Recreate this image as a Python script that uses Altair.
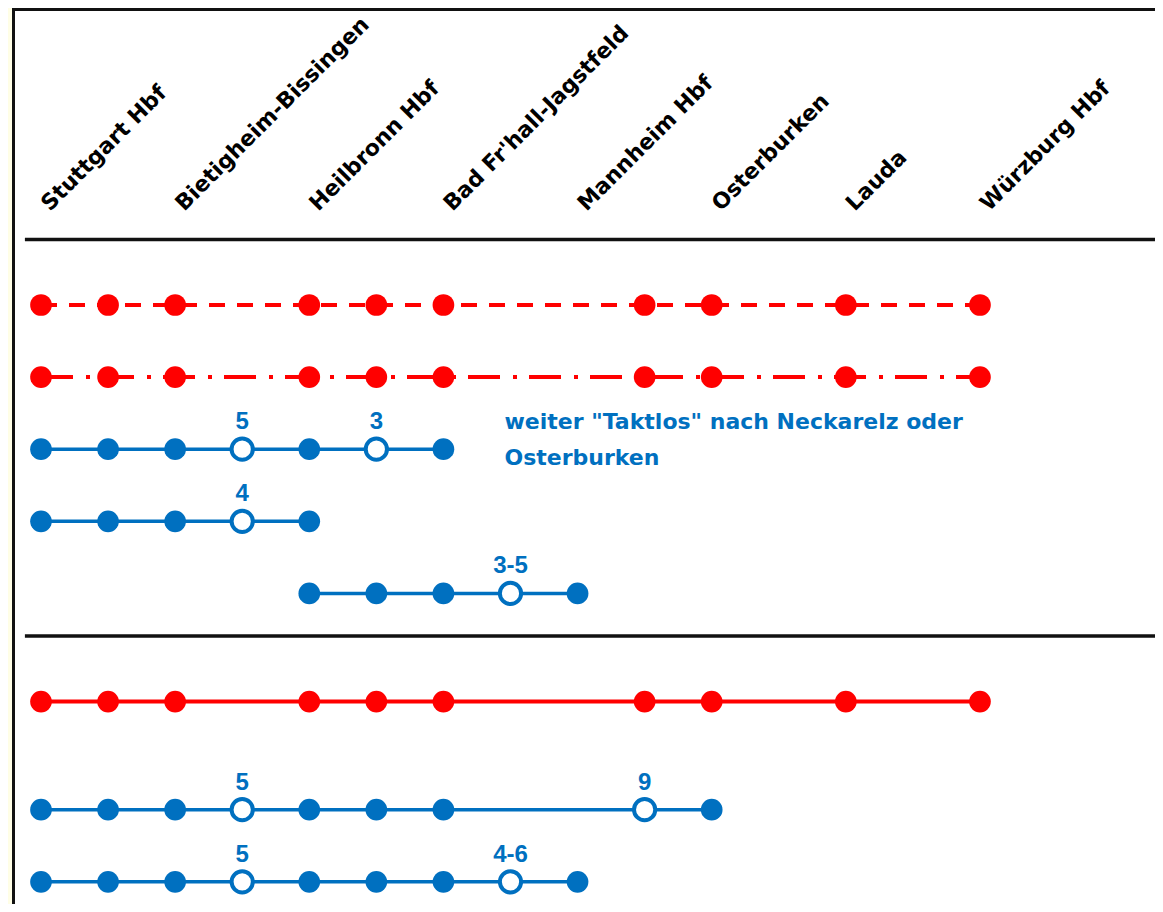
import altair as alt
import pandas as pd

# ---------------- data ----------------
STATIONS = ["Stuttgart Hbf", "Bietigheim-Bissingen", "Heilbronn Hbf",
            "Bad Fr'hall-Jagstfeld", "Mannheim Hbf", "Osterburken",
            "Lauda", "Würzburg Hbf"]
STATION_COLS = [0, 2, 4, 6, 8, 10, 12, 14]

ROW_TRACK = [0, 1, 2, 3, 4, 5.5, 7, 8]
ROW_COLOR = ["red", "red", "blue", "blue", "blue", "red", "blue", "blue"]
ROW_DASH = ["dash", "dashdot", "solid", "solid", "solid", "solid", "solid", "solid"]
ROW_STOPS = [
    [0, 1, 2, 4, 5, 6, 9, 10, 12, 14],
    [0, 1, 2, 4, 5, 6, 9, 10, 12, 14],
    [0, 1, 2, 3, 4, 5, 6],
    [0, 1, 2, 3, 4],
    [4, 5, 6, 7, 8],
    [0, 1, 2, 4, 5, 6, 9, 10, 12, 14],
    [0, 1, 2, 3, 4, 5, 6, 9, 10],
    [0, 1, 2, 3, 4, 5, 6, 7, 8],
]
ROW_OPEN = [[], [], [3, 5], [3], [7], [], [3, 9], [3, 7]]
ROW_OPEN_LABELS = [[], [], ["5", "3"], ["4"], ["3-5"], [], ["5", "9"], ["5", "4-6"]]

NOTE_TEXT = 'weiter "Taktlos" nach Neckarelz oder\nOsterburken'
NOTE_COL = 7
NOTE_TRACK = 2

SEPARATOR_TRACKS = [-0.91, 4.59]
HEADER_TRACK = -1.29

# ---------------- layout / style ----------------
W, H = 1147, 896
X0_PX, X_STEP = 33, 67.07
Y0_PX, Y_STEP = 297, 72.1
XDOM = [-X0_PX / X_STEP, (W - X0_PX) / X_STEP]
YDOM = [-Y0_PX / Y_STEP, (H - Y0_PX) / Y_STEP]
RED = "#FF0000"
BLUE = "#0070C0"
CREAM = "#FFFEE6"
INK = "#111111"

xs = alt.Scale(domain=XDOM, range=[0, W], nice=False, zero=False)
ys = alt.Scale(domain=YDOM, range=[0, H], nice=False, zero=False)

pts = []
for r, (trk, colr, dash, stops, opens, labs) in enumerate(
        zip(ROW_TRACK, ROW_COLOR, ROW_DASH, ROW_STOPS, ROW_OPEN, ROW_OPEN_LABELS)):
    lab_map = dict(zip(opens, labs))
    for c in stops:
        pts.append({"row": r, "col": c, "track": trk, "color": colr, "dash": dash,
                    "open": c in lab_map, "label": lab_map.get(c, "")})
pts = pd.DataFrame(pts)
stations = pd.DataFrame({"name": STATIONS, "col": STATION_COLS})
seps = pd.DataFrame({"track": SEPARATOR_TRACKS})
note = pd.DataFrame({"text": [NOTE_TEXT], "col": [NOTE_COL], "track": [NOTE_TRACK]})
blank = alt.Data(values=[{}])

X = lambda f="col": alt.X(f"{f}:Q", scale=xs, axis=None)
Y = lambda f="track": alt.Y(f"{f}:Q", scale=ys, axis=None)

panel = alt.Chart(blank).mark_rect(color="white").encode(
    x=alt.value(7), x2=alt.value(W), y=alt.value(3), y2=alt.value(H))
border_left = alt.Chart(blank).mark_rule(color=INK, strokeWidth=3).encode(
    x=alt.value(5.5), y=alt.value(0), y2=alt.value(H))
border_top = alt.Chart(blank).mark_rule(color=INK, strokeWidth=3).encode(
    x=alt.value(4), x2=alt.value(W), y=alt.value(1.5))

sep_rules = alt.Chart(seps).mark_rule(color=INK, strokeWidth=3.5).encode(
    y=Y(), x=alt.X(datum=-0.24, type="quantitative", scale=xs, axis=None),
    x2=alt.X2(datum=XDOM[1]))

headers = alt.Chart(stations).transform_calculate(
    lx=f"datum.col + {9 / X_STEP}", ly=f"{HEADER_TRACK}"
).mark_text(angle=315, align="left", baseline="alphabetic", font="DejaVu Sans",
            fontWeight="bold", fontSize=22, color="black").encode(
    x=X("lx"), y=Y("ly"), text="name:N")

dash_scale = alt.Scale(domain=["dash", "dashdot", "solid"],
                       range=[[16, 12], [32, 13, 4, 12], [1, 0]])

red_lines = alt.Chart(pts).transform_filter("datum.color == 'red'").mark_line(
    color=RED, strokeWidth=4).encode(
    x=X(), y=Y(), detail="row:N", order="col:Q",
    strokeDash=alt.StrokeDash("dash:N", scale=dash_scale, legend=None))
blue_lines = alt.Chart(pts).transform_filter("datum.color == 'blue'").mark_line(
    color=BLUE, strokeWidth=3.5).encode(
    x=X(), y=Y(), detail="row:N", order="col:Q")

red_dots = alt.Chart(pts).transform_filter("datum.color == 'red'").mark_circle(
    color=RED, size=470, opacity=1).encode(x=X(), y=Y())
blue_dots = alt.Chart(pts).transform_filter(
    "datum.color == 'blue' && !datum.open").mark_circle(
    color=BLUE, size=470, opacity=1).encode(x=X(), y=Y())
open_dots = alt.Chart(pts).transform_filter("datum.open").mark_point(
    shape="circle", fill="white", stroke=BLUE, strokeWidth=4, size=450,
    opacity=1, fillOpacity=1, strokeOpacity=1).encode(x=X(), y=Y())

open_labels = alt.Chart(pts).transform_filter("datum.open").mark_text(
    align="center", baseline="alphabetic", dy=-20, font="Liberation Sans",
    fontWeight="bold", fontSize=24, color=BLUE).encode(
    x=X(), y=Y(), text="label:N")

note_text = alt.Chart(note).mark_text(
    align="left", baseline="alphabetic", dx=-6, dy=-20, font="DejaVu Sans",
    fontWeight="bold", fontSize=22, color=BLUE, lineBreak="\n",
    lineHeight=36).encode(x=X(), y=Y(), text="text:N")

chart = alt.layer(
    panel, border_left, border_top, sep_rules, headers,
    red_lines, blue_lines, red_dots, blue_dots, open_dots, open_labels, note_text
).properties(
    width=W, height=H, background=CREAM, padding=0,
    autosize=alt.AutoSizeParams(type="none")
).configure_view(stroke=None)

chart.save("out.html", embed_options={"renderer": "svg", "actions": False})
